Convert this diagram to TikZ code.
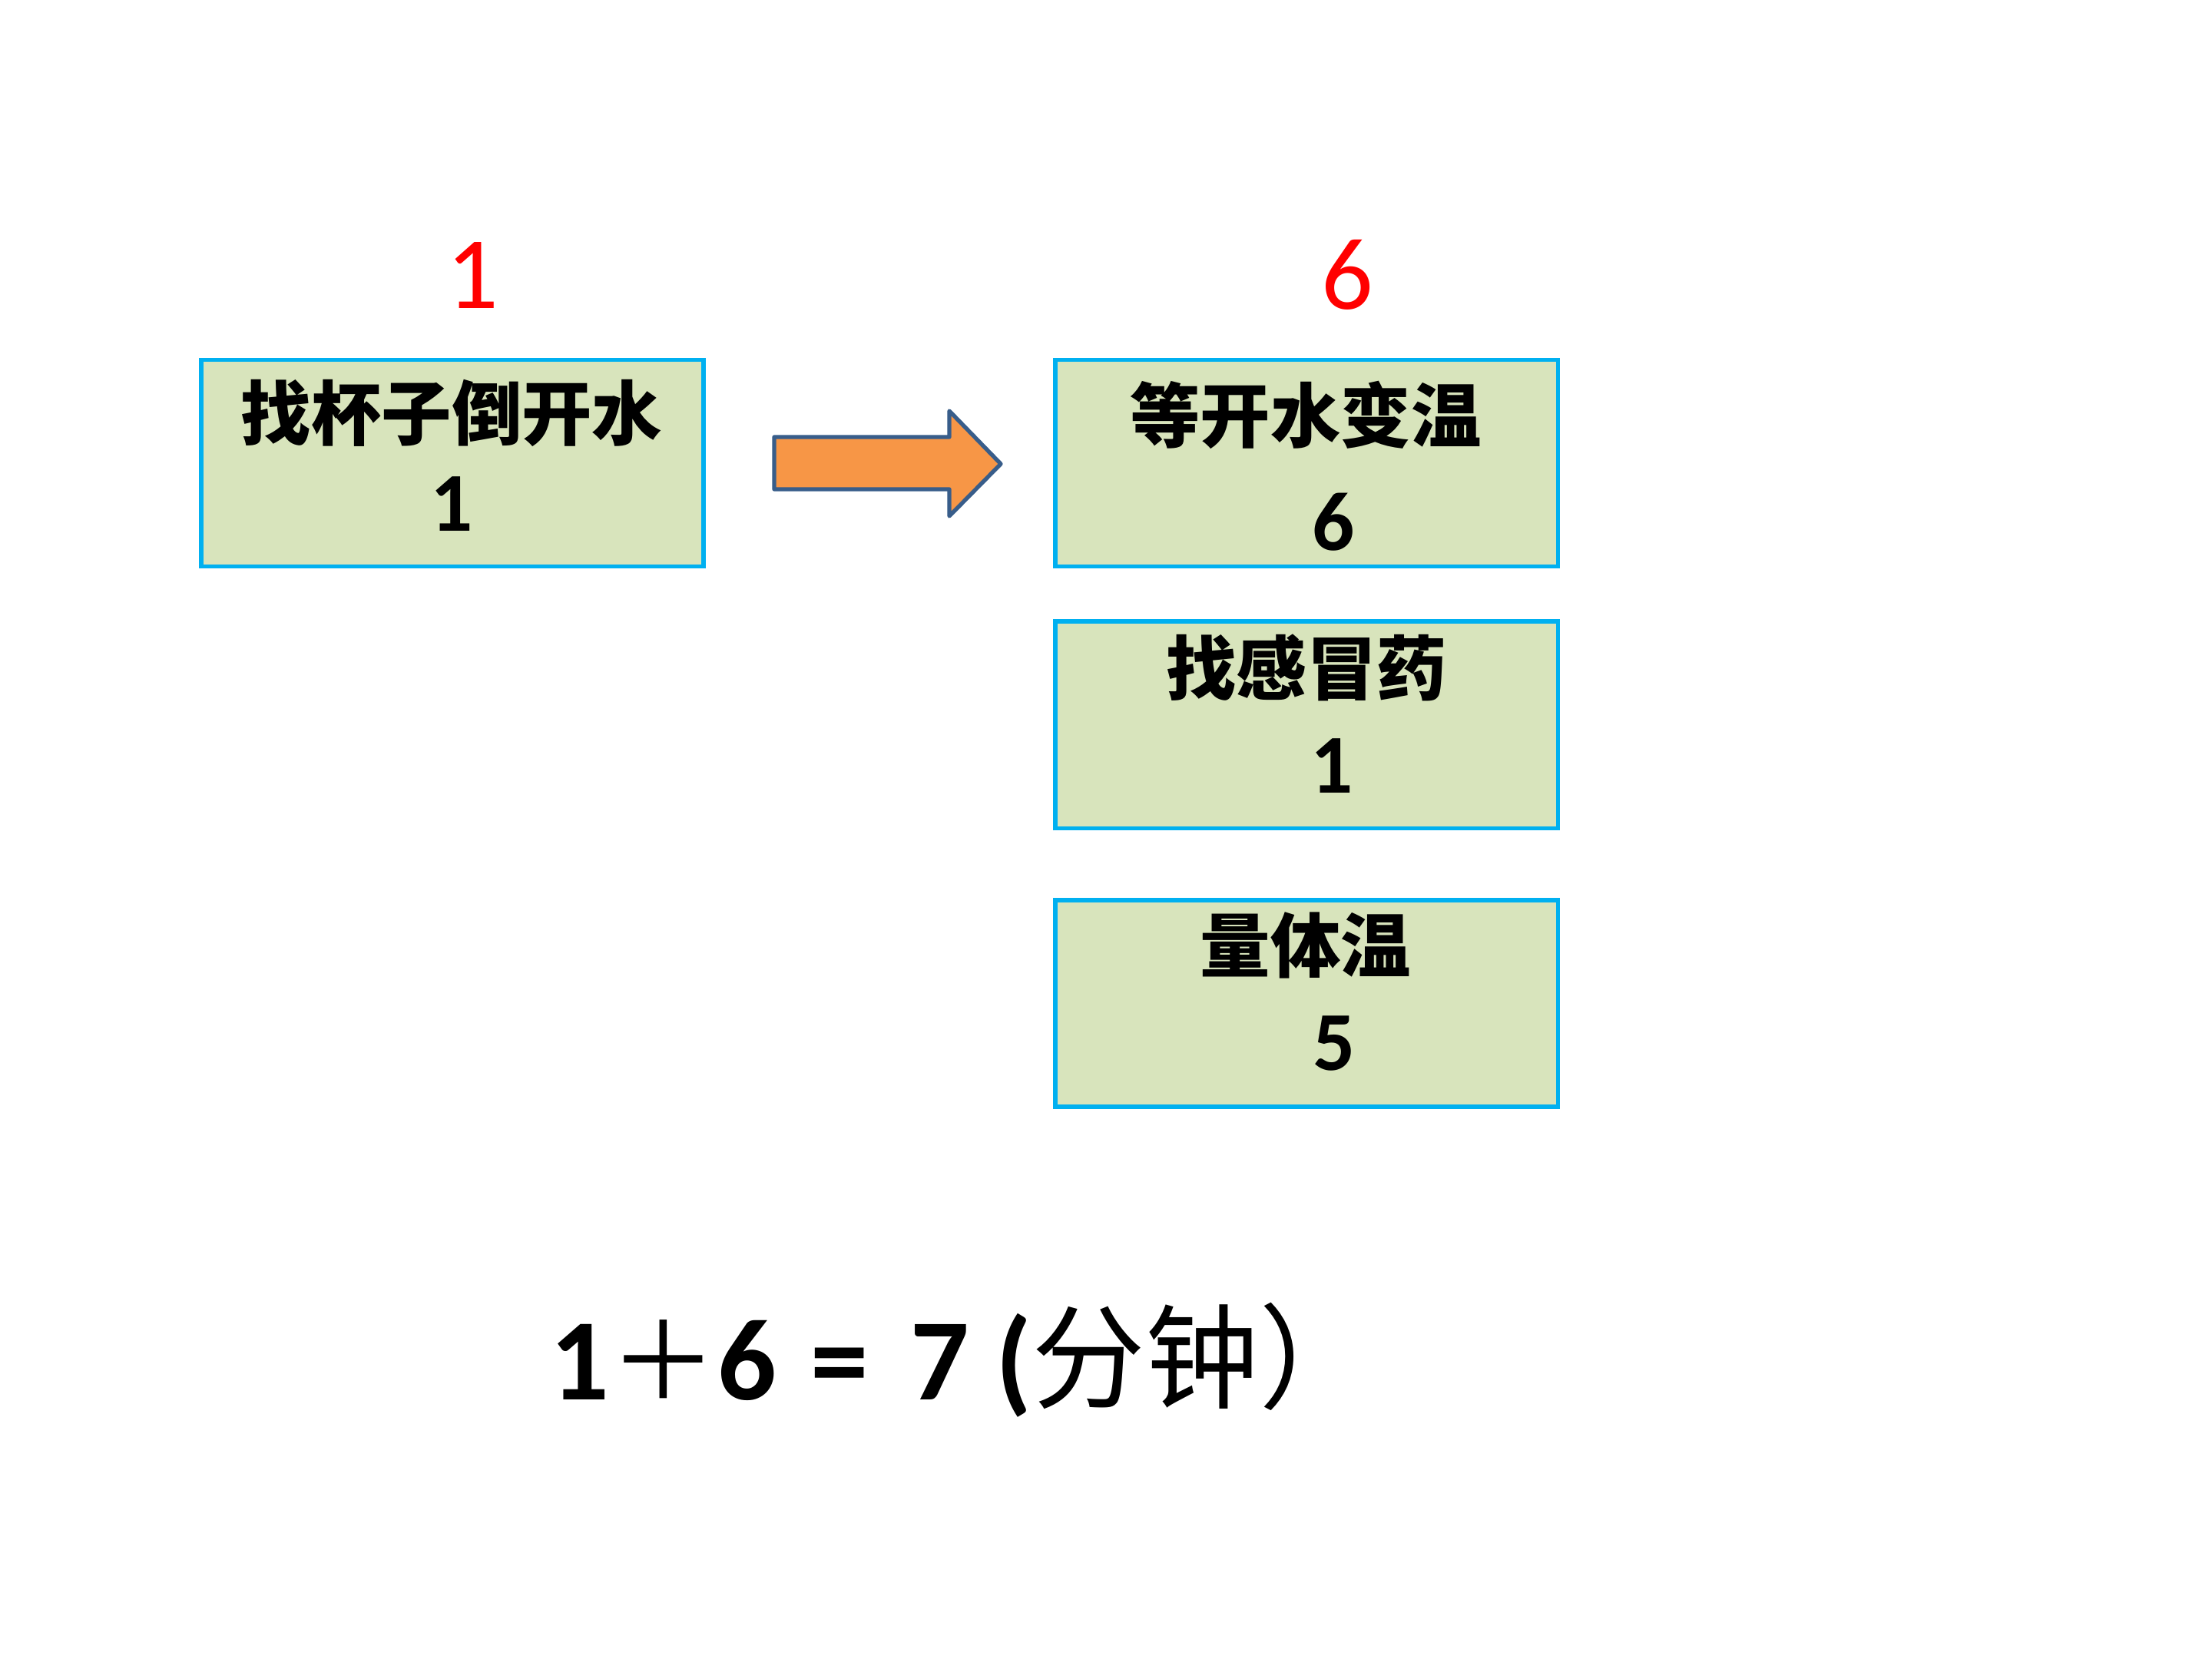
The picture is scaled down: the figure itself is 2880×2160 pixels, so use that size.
\documentclass[tikz,border=0pt]{standalone}
\usepackage{fontspec}
\setmainfont{Carlito}
\newfontfamily\cjk{Noto Sans CJK SC}
\usetikzlibrary{positioning}

\definecolor{boxfill}{HTML}{D8E4BC}
\definecolor{boxline}{HTML}{00B0F0}
\definecolor{arrowfill}{HTML}{F79646}
\definecolor{arrowline}{HTML}{385D8A}

\begin{document}
\begin{tikzpicture}[x=0.01cm, y=-0.01cm,
  task/.style={draw=boxline, fill=boxfill, line width=1.6pt,
               minimum width=6.54cm, minimum height=2.69cm, inner sep=0pt},
  jobtxt/.style={inner sep=0pt, font=\cjk\bfseries\fontsize{26}{30}\selectfont},
  jobmin/.style={inner sep=0pt, font=\bfseries\fontsize{31}{36}\selectfont},
  redtime/.style={inner sep=0pt, text=red, font=\fontsize{38}{44}\selectfont}]
  \useasboundingbox (0,0) rectangle (2880,2160);

  % the boxes
  \node (b1) [task] at (589,603) {};
  \node (b2) [task, right=4.52cm of b1] {};
  \node (b3) [task, below=0.66cm of b2] {};
  \node (b4) [task, below=0.88cm of b3] {};

  % times on top
  \node (n1) [redtime] at (615,358) {1};
  \node (n6) [redtime] at (1754,358) {6};

  \node (s1) [jobtxt] at (588,538) {找杯子倒开水};
  \node (m1) [jobmin] at (588,656) {1};
  \node (s2) [jobtxt] at (1700,540) {等开水变温};
  \node (m2) [jobmin] at (1736,680) {6};
  \node (s3) [jobtxt] at (1701,869) {找感冒药};
  \node (m3) [jobmin] at (1734,997) {1};
  \node (s4) [jobtxt] at (1700,1231) {量体温};
  \node (m4) [jobmin] at (1737,1359) {5};

  % block arrow
  \draw[fill=arrowfill, draw=arrowline, line width=1.5pt, line join=round]
    (1008,569) -- (1236,569) -- (1236,535) -- (1303,604)
    -- (1236,672) -- (1236,637) -- (1008,637) -- cycle;

  \node (sum) [anchor=base west, inner sep=0pt,
               font=\bfseries\fontsize{43}{50}\selectfont] at (716,1822)
    {1{\cjk\mdseries\fontsize{40}{45}\selectfont ＋}6\hspace{0.45cm}=\hspace{0.55cm}7 ({\cjk\mdseries\fontsize{42}{48}\selectfont 分钟）}};
\end{tikzpicture}
\end{document}
